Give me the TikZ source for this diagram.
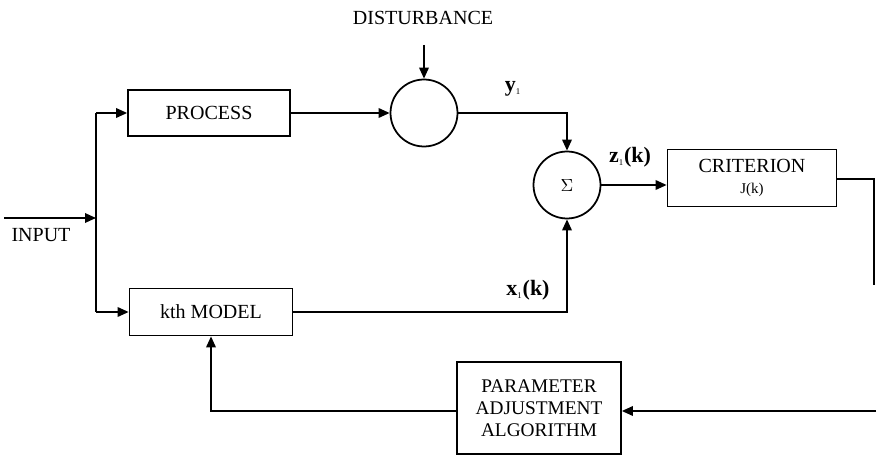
\documentclass[tikz,border=0pt]{standalone}
\usepackage{fontspec}
\setmainfont{Liberation Serif}
\usepackage{tikz}
\usetikzlibrary{positioning, arrows.meta, calc}

\begin{document}
\begin{tikzpicture}[
    x=0.02cm, y=-0.02cm,
    block/.style={draw, line width=1pt, rectangle, align=center, inner sep=2pt, font=\fontsize{11.4}{13}\selectfont},
    junction/.style={draw, line width=1pt, circle, inner sep=0pt, minimum size=1.34cm},
    sig/.style={font=\fontsize{12.5}{14}\selectfont\bfseries},
    txt/.style={font=\fontsize{11.4}{13}\selectfont},
    flow/.style={line width=1pt, -{Triangle[length=2.2mm, width=1.9mm]}},
    wire/.style={line width=1pt}
]
  \useasboundingbox (0,0) rectangle (877,456);

  % Blocks
  \node[block, minimum width=3.24cm, minimum height=0.92cm] (process) at (209,113) {PROCESS};
  \node[block, minimum width=3.26cm, minimum height=0.94cm] (model) at (211,312) {kth MODEL};
  \node[block, minimum width=3.38cm, minimum height=1.14cm] (crit) at (752,178) {CRITERION\\[-1pt]{\fontsize{8.5}{10}\selectfont J(k)}};
  \node[block, minimum width=3.28cm, minimum height=1.84cm, font=\fontsize{11}{12.5}\selectfont] (param) at (539,408) {PARAMETER\\ADJUSTMENT\\ALGORITHM};

  % Summing points
  \node[junction] (dist) at (424,113) {};
  \node[junction, font=\normalsize] (sum) at (567,185) {$\Sigma$};

  % Helper points
  \coordinate (in) at (4,218);
  \coordinate (split) at (96,218);
  \coordinate (top) at (424,45);
  \coordinate (edge) at (874,179);
  \coordinate (stub) at (874,285);
  \coordinate (back) at (876,411);

  % Labels
  \node[txt] (inlab) at (41,235) {INPUT};
  \node[txt] (distlab) at (423,18) {DISTURBANCE};
  \node[sig] (ylab) at (513,89) {y\textsubscript{\tiny\mdseries 1}};
  \node[sig] (zlab) at (630,157) {z\textsubscript{\tiny\mdseries 1}(k)};
  \node[sig] (xlab) at (528,290) {x\textsubscript{\tiny\mdseries 1}(k)};

  % Forward paths
  \draw[flow] (in) -- (split);
  \draw[wire] (split |- process.west) -- (split |- model.west);
  \draw[flow] (split |- process.west) -- (process.west);
  \draw[flow] (split |- model.west) -- (model.west);
  \draw[flow] (process.east) -- (dist.west);
  \draw[flow] (top) -- (dist.north);
  \draw[flow] (dist.east) -| (sum.north);
  \draw[flow] (model.east) -| (sum.south);
  \draw[flow] (sum.east) -- (sum.east -| crit.west);

  % Feedback
  \draw[wire] (crit.east |- edge) -- (edge) -- (stub);
  \draw[flow] (back) -- (back -| param.east);
  \draw[flow] (param.west |- back) -| (model.south);
\end{tikzpicture}
\end{document}
